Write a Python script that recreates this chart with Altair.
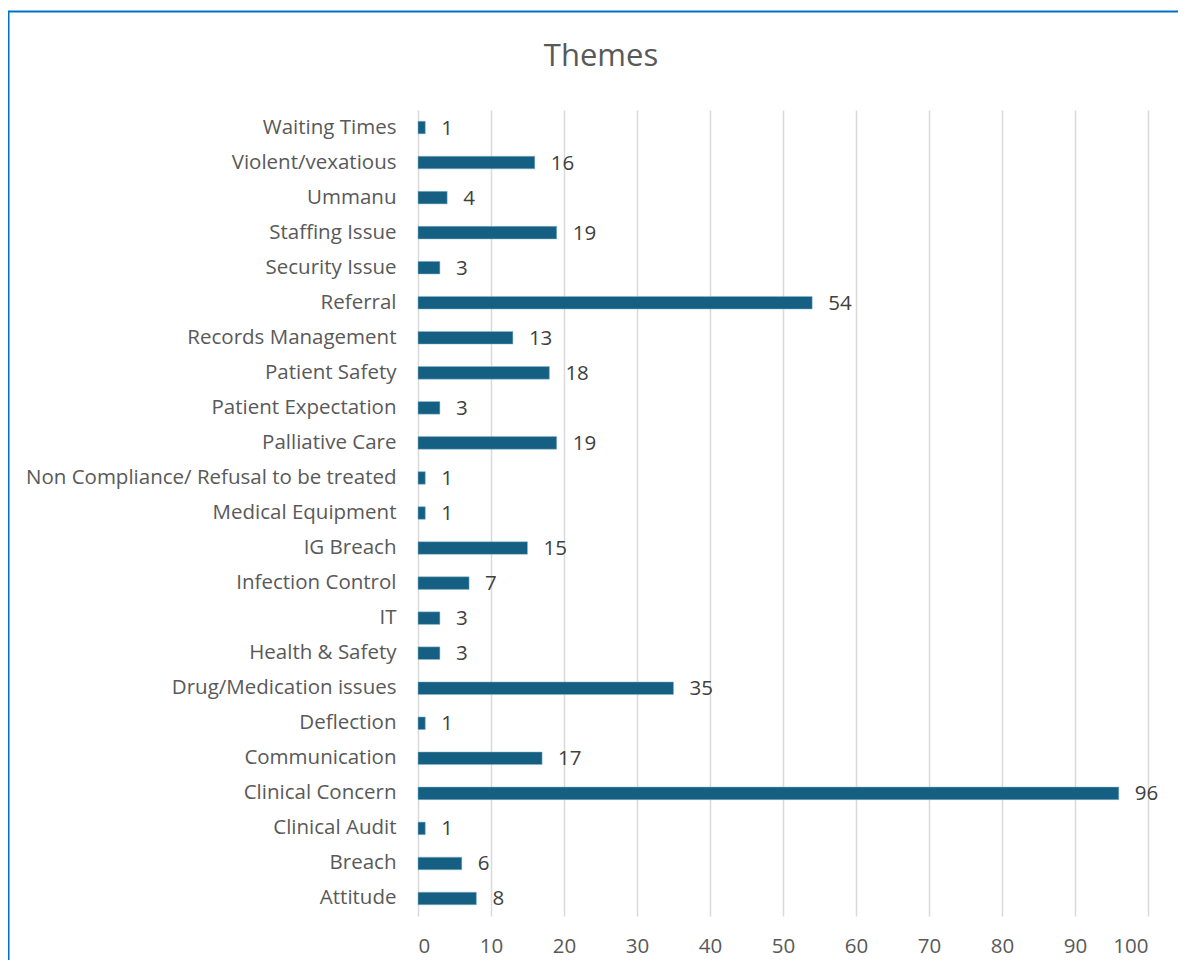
import altair as alt
import pandas as pd

categories = [
    "Waiting Times\u00a0", "Violent/vexatious", "Ummanu", "Staffing Issue",
    "Security Issue", "Referral", "Records Management\u00a0", "Patient Safety",
    "Patient Expectation", "Palliative Care",
    "Non Compliance/ Refusal to be treated", "Medical Equipment\u00a0",
    "IG Breach", "Infection Control", "IT", "Health & Safety",
    "Drug/Medication issues", "Deflection", "Communication",
    "Clinical Concern", "Clinical Audit", "Breach", "Attitude",
]
counts = [1, 16, 4, 19, 3, 54, 13, 18, 3, 19, 1, 1, 15, 7, 3, 3, 35, 1, 17, 96, 1, 6, 8]
x_ticks = [0, 10, 20, 30, 40, 50, 60, 70, 80, 90, 100]
title_text = ["Themes"]

df = pd.DataFrame({"theme": categories, "count": counts})
one = pd.DataFrame({"t": title_text})

FONT = "Open Sans"
BAR = "#156082"
FS = 20.5

y_enc = alt.Y("theme:N", sort=categories, title=None,
              scale=alt.Scale(paddingInner=0.64, paddingOuter=0.32),
              axis=alt.Axis(labelFontSize=FS, labelColor="#595959", labelFont=FONT,
                            labelPadding=22, ticks=False, domain=False, grid=False,
                            labelLimit=500))
x_enc = alt.X("count:Q", title=None,
              scale=alt.Scale(domain=[0, 100], nice=False),
              axis=alt.Axis(values=x_ticks, labelFontSize=FS, labelColor="#595959",
                            labelFont=FONT, labelPadding=20, ticks=False, domain=False,
                            grid=True, gridColor="#d9d9d9", gridWidth=1.5))

bars = alt.Chart(df).mark_bar(color=BAR, stroke="#8fb8cc", strokeWidth=0.5).encode(x=x_enc, y=y_enc)
labels = alt.Chart(df).mark_text(align="left", baseline="middle", dx=16, dy=1,
                                  fontSize=FS, font=FONT, color="#404040").encode(
    x="count:Q", y=alt.Y("theme:N", sort=categories), text="count:Q")

frame = alt.Chart(one).mark_rect(fill=None, stroke="#0070c0", strokeWidth=2).encode(
    x=alt.value(-409.5), x2=alt.value(800), y=alt.value(-98.5), y2=alt.value(900))

title = alt.Chart(one).mark_text(fontSize=31, font=FONT, fontWeight="normal",
                                 color="#595959", align="center", baseline="middle").encode(
    x=alt.value(183), y=alt.value(-53), text="t:N")

chart = alt.layer(bars, labels, frame, title).properties(
    width=730, height=806,
    autosize=alt.AutoSizeParams(type="none"),
    padding={"left": 410, "top": 102, "right": 30, "bottom": 44},
).configure_view(stroke=None)

chart.save("out.html", embed_options={"renderer": "svg", "actions": False})
